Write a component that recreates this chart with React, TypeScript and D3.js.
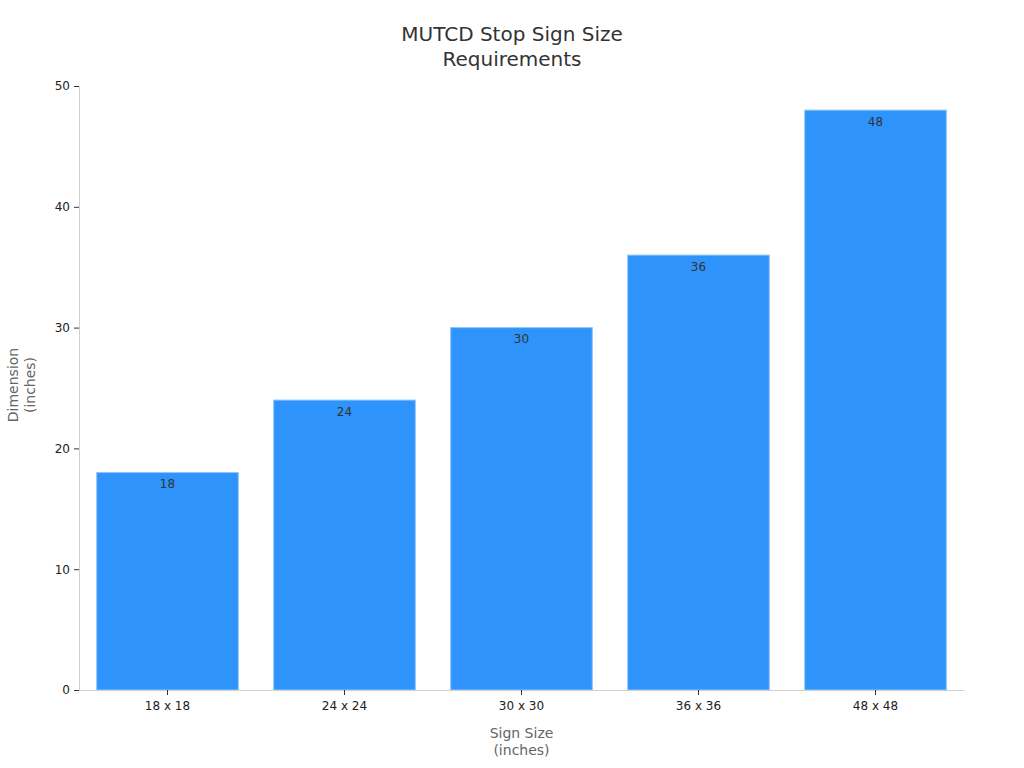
import { useRef, useEffect } from "react";
import * as d3 from "d3";

const signSizes = ["18 x 18", "24 x 24", "30 x 30", "36 x 36", "48 x 48"];
const dimensions = [18, 24, 30, 36, 48];
const yTicks = [0, 10, 20, 30, 40, 50];

export default function App() {
  const svgRef = useRef<SVGSVGElement>(null);

  useEffect(() => {
    if (!svgRef.current) return;
    const width = 1024;
    const height = 768;
    const marginLeft = 79;
    const marginRight = 60;
    const marginTop = 86;
    const marginBottom = 78;
    const font = "DejaVu Sans, sans-serif";

    const svg = d3.select(svgRef.current);
    svg.selectAll("*").remove();
    svg.attr("width", width).attr("height", height);

    const x = d3.scaleBand()
      .domain(signSizes)
      .range([marginLeft, width - marginRight])
      .paddingInner(0.2)
      .paddingOuter(0.1);

    const y = d3.scaleLinear()
      .domain([0, 50])
      .range([height - marginBottom, marginTop]);

    // Title
    svg.append("text")
      .attr("x", width / 2)
      .attr("y", 41)
      .attr("text-anchor", "middle")
      .attr("font-family", font)
      .attr("font-size", "20px")
      .attr("fill", "#333")
      .selectAll("tspan")
      .data(["MUTCD Stop Sign Size", "Requirements"])
      .join("tspan")
      .attr("x", width / 2)
      .attr("dy", (_d, i) => (i === 0 ? 0 : 25))
      .text((d) => d);

    // Bars
    svg.selectAll(".bar")
      .data(dimensions)
      .join("rect")
      .attr("class", "bar")
      .attr("x", (_d, i) => x(signSizes[i]) || 0)
      .attr("y", (d) => y(d))
      .attr("width", x.bandwidth())
      .attr("height", (d) => y(0) - y(d))
      .attr("fill", "#2e93fa")
      .attr("stroke", "#8cc4fc")
      .attr("stroke-width", 1);

    // Value labels
    svg.selectAll(".bar-label")
      .data(dimensions)
      .join("text")
      .attr("class", "bar-label")
      .attr("x", (_d, i) => (x(signSizes[i]) || 0) + x.bandwidth() / 2)
      .attr("y", (d) => y(d) + 15.5)
      .attr("text-anchor", "middle")
      .attr("font-family", font)
      .attr("font-size", "12px")
      .attr("fill", "#333")
      .text((d) => d);

    // Y axis
    const yAxis = svg.append("g")
      .attr("transform", `translate(${marginLeft},0)`)
      .call(d3.axisLeft(y).tickValues(yTicks).tickSize(5).tickPadding(4));
    yAxis.select(".domain").attr("stroke", "#d0d0d0");
    yAxis.selectAll(".tick line").attr("stroke", "#333");
    yAxis.selectAll(".tick text")
      .attr("font-family", font)
      .attr("font-size", "12px")
      .attr("fill", "#222");

    // X axis
    const xAxis = svg.append("g")
      .attr("transform", `translate(0,${height - marginBottom})`)
      .call(d3.axisBottom(x).tickSize(5).tickPadding(6).tickSizeOuter(0));
    xAxis.select(".domain").attr("stroke", "#d0d0d0");
    xAxis.selectAll(".tick line").attr("stroke", "#333");
    xAxis.selectAll(".tick text")
      .attr("font-family", font)
      .attr("font-size", "12px")
      .attr("fill", "#222");

    // X axis title
    const xMid = (marginLeft + width - marginRight) / 2;
    svg.append("text")
      .attr("x", xMid)
      .attr("y", 738)
      .attr("text-anchor", "middle")
      .attr("font-family", font)
      .attr("font-size", "14px")
      .attr("fill", "#666")
      .selectAll("tspan")
      .data(["Sign Size", "(inches)"])
      .join("tspan")
      .attr("x", xMid)
      .attr("dy", (_d, i) => (i === 0 ? 0 : 17))
      .text((d) => d);

    // Y axis title
    const yMid = (marginTop + height - marginBottom) / 2;
    svg.append("text")
      .attr("transform", `translate(18,${yMid - 3}) rotate(-90)`)
      .attr("text-anchor", "middle")
      .attr("font-family", font)
      .attr("font-size", "14px")
      .attr("fill", "#666")
      .selectAll("tspan")
      .data(["Dimension", "(inches)"])
      .join("tspan")
      .attr("x", 0)
      .attr("dy", (_d, i) => (i === 0 ? 0 : 17))
      .text((d) => d);
  }, []);

  return (
    <div style={{ position: "absolute", left: 0, top: 0 }}>
      <svg ref={svgRef} />
    </div>
  );
}
